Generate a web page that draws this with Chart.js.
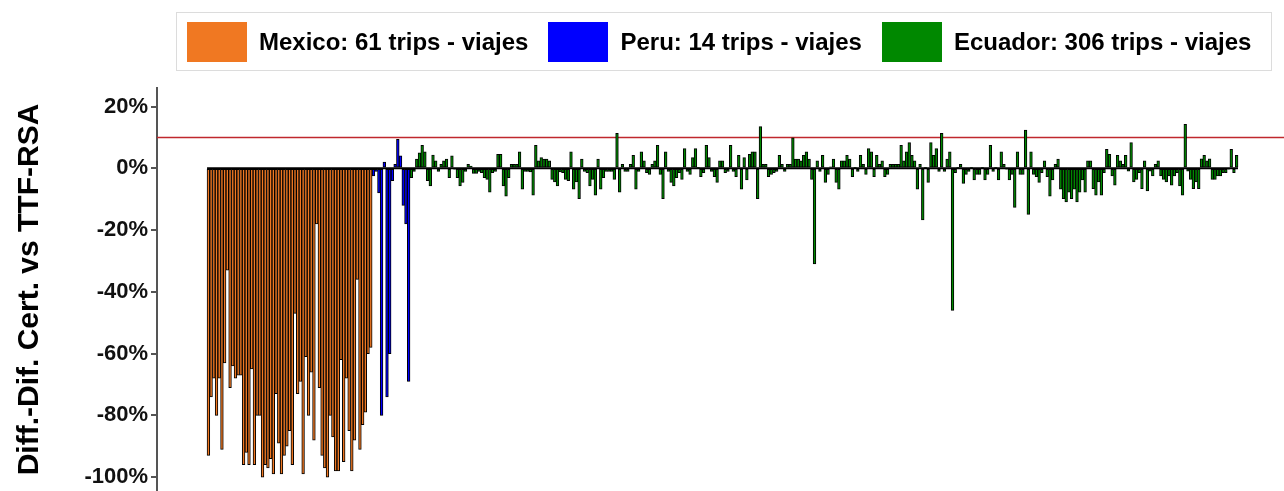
<!DOCTYPE html>
<html lang="en">
<head>
    <meta charset="UTF-8">
    <title>Diff.-Dif. Cert. vs TTF-RSA</title>
    <script src="https://cdn.jsdelivr.net/npm/chart.js"></script>
    <style>
        html, body { margin: 0; padding: 0; background: #fff; }
        #wrap { position: relative; width: 1284px; height: 491px; }
        #legend {
            position: absolute; left: 176px; top: 12px; width: 1094px; height: 57px;
            border: 1px solid #dcdcdc; display: flex; align-items: center;
            font: bold 24px "Liberation Sans", Arial, sans-serif; color: #000;
        }
        .item { display: flex; align-items: center; margin-left: 10px; margin-right: 10px; white-space: nowrap; flex-shrink: 0; }
        .swatch { width: 60px; height: 40px; margin-right: 12px; }
        canvas { position: absolute; left: 0; top: 0; }
    </style>
</head>
<body>
<div id="wrap">
    <canvas id="chart" width="1284" height="491"></canvas>
    <div id="legend"></div>
</div>

<script>
    // Diff. values (%) per trip, in trip order
    const mexico = [
        -93, -74, -68, -80, -68, -91, -63, -33, -71, -64, -68, -67, -67, -96, -92, -96, -65, -96, -80, -80,
        -100, -96, -97, -94, -99, -73, -89, -99,
        -93, -90, -85, -96, -47, -73, -69, -99, -61, -80, -66, -88, -18, -71, -93, -97, -100, -80, -87, -98,
        -98, -62, -95, -68, -85, -98, -88, -36, -91, -83, -79, -60, -58
    ];
    const peru = [-2.5, -1, -8, -80, 2, -74, -60, -4, 1.3, 9.4, 4, -12, -18, -69];
    const ecuador = [
        -3, -1, 3, 5, 7.4, 5.3, -4, -5.7, 4.3, 2.4, -1, 1.3, 2.4, 3, -3, 4, -0.3, -3, -5.7, -4.6,
        -1, 1.3, 0.7, -1.7, -1.7, -1, -1.4, -3, -3.6, -7.7, -1.4, -1, 4.5, 4.5, -5.7, -9, -3, 1.3, 1.3, 1.3,
        5.3, -6.8, -1, -1, -1.2, -8.7, 7.4, 2.4, 3.5, 3,
        3, 2.4, -3.6, -4.4, -5.7, -1.2, -1.4, -3.6, -4, 5.3, -6.8, -4.4, -9.8, 3, -1, -1.4, -5.7, -3.6, -8.7, 3,
        -6.8, -3, -1, -1, -1, -3.6, 11.3, -7.7, 1.3, -1, -1, 1.3, 4.2, -6.8, -1, 5.3, 2.4, -1.4, -2, 1.3,
        2.4, 7.4, -2, -9.8, 5.3, -1, -4.6, -5.7, -3, -1.4, -3.6, 6.4,
        -1, -2, 3.5, 6.4, 0.3, -2.7, -1.4, 7.4, 3.5, -1, -2.7, -4.6, 2.4, 2.4, -1.4, -1, 7.4, -1, -2.7,
        4.2, -6.8, 3.5, -3.8, 4.5, 5.3, 5.3, -9.8, 13.5, 1.3, 1.3, -2.7, -2, -1.4, -1, 4.2, 1.3, -1, 1.3, 1.3,
        9.9, 3, 3, 2.4, 4.2, 5.3, 3, -3.6, -31, 2.4,
        -1, 4.2, -4.6, -2, 0.5, 3, -4.6, -6.8, 2.4, 2.4, 4.2, 3, -2.7, 0.3, -1, 4.2, 1.3, -2, 6.4, 5.3,
        -2.7, 4.2, 1.3, 2.4, -2.7, -2, 1.3, 1.3, 1.3, 1.3, 7.4, 2.4, 5.3, 8.3, 4.2, 2.4, -6.8, 1.3, -16.7, 0.3,
        -4.6, 8.3, 4.2, 6.4, -1, 11.3, -1, 3, 5.3, -46,
        -1.4, 0.3, 1.3, -4.9, -2, -1, 0.3, -3.8, -2, -2, 0.3, -3.8, -2, 7.4, -1, 0.3, -3.8, 5.3, 1.3, -0.3,
        -3.8, -2, -12.7, 5.3, -2, -2, 12.4, -14.9, 5.3, -2, -2.7, -4.6, -1.4, 2.4, -2.7, -9, -3.8, 1.3, 3, -6.8,
        -9.8, -10.9, -7.7, -9.8, -6.8, -10.9, -7.7, -3.8, -7.7, 2.4,
        2.4, -6.6, -8.7, -4.4, -8.7, -1.4, 6.1, 4.5, -2.5, -5.5, 4.2, 2.4, 1.3, 4.2, -0.9, 8.3, -4.4, -3.6, -1.4, -6.6,
        2.4, -7.3, -0.9, -2.5, 1.3, 2.4, -2.5, -3.6, -4.4, -2.5, -5.5, -2.5, -1.4, -5.7, -8.7, 14.2, -0.9, -3.6, -6.6, -4.4,
        -6.6, 3.1, 4.2, 2.4, 3.1, -3.6, -3.6, -2.5, -2.5, -1.4, -1.4, -0.3, 6.1, -1.4, 4.2
    ];
    const countries = ['Mexico', 'Peru', 'Ecuador'];
    const colors = ['#f07822', '#0000ff', '#008800'];
    const yTicks = [20, 0, -20, -40, -60, -80, -100];
    const threshold = 10;

    const xMin = -19, xMax = 397.5;
    const font = '"Liberation Sans", Arial, sans-serif';

    // one bar dataset per country, trips numbered one after another
    const series = [mexico, peru, ecuador];
    let start = 0;
    const datasets = series.map((vals, k) => {
        const ds = {
            type: 'bar',
            label: countries[k] + ': ' + vals.length + ' trips - viajes',
            data: vals.map((v, i) => ({ x: start + i, y: v })),
            backgroundColor: colors[k],
            borderColor: '#000',
            borderWidth: 1,
            borderSkipped: false,
            grouped: false,
            barPercentage: 1,
            categoryPercentage: 1,
            order: 1
        };
        start += vals.length;
        return ds;
    });
    const nTrips = start;

    // red reference line at 10%
    datasets.push({
        type: 'line',
        label: 'threshold',
        data: [{ x: xMin, y: threshold }, { x: xMax, y: threshold }],
        borderColor: '#c0282d',
        borderWidth: 1.5,
        pointRadius: 0,
        order: 2
    });

    // black base line under the bars
    datasets.push({
        type: 'line',
        label: 'base',
        data: [{ x: -0.5, y: 0 }, { x: nTrips - 0.5, y: 0 }],
        borderColor: '#000',
        borderWidth: 2,
        pointRadius: 0,
        order: 0
    });

    // html legend
    const legendEl = document.getElementById('legend');
    series.forEach((vals, k) => {
        const item = document.createElement('div');
        item.className = 'item';
        const sw = document.createElement('span');
        sw.className = 'swatch';
        sw.style.background = colors[k];
        const txt = document.createElement('span');
        txt.textContent = datasets[k].label;
        item.appendChild(sw);
        item.appendChild(txt);
        legendEl.appendChild(item);
    });

    new Chart(document.getElementById('chart'), {
        type: 'bar',
        data: { datasets: datasets },
        options: {
            responsive: false,
            animation: false,
            layout: { padding: { top: 88, left: 0, right: 0, bottom: 0 } },
            plugins: { legend: { display: false }, tooltip: { enabled: false } },
            scales: {
                x: { type: 'linear', min: xMin, max: xMax, offset: false, display: false },
                y: {
                    min: -104.5,
                    max: 26,
                    afterBuildTicks: s => { s.ticks = yTicks.map(v => ({ value: v })); },
                    afterFit: s => { s.width = 157; s.paddingTop = 0; s.paddingBottom = 0; },
                    ticks: {
                        callback: v => v + '%',
                        color: '#111',
                        padding: 3,
                        font: { family: font, size: 22, weight: 'bold' }
                    },
                    grid: { drawOnChartArea: false, drawTicks: true, tickLength: 6, color: '#555', lineWidth: 2 },
                    border: { display: true, color: '#555', width: 2 },
                    title: {
                        display: true,
                        text: 'Diff.-Dif. Cert. vs TTF-RSA',
                        color: '#000',
                        padding: { top: 12, bottom: 0 },
                        font: { family: font, size: 30, weight: 'bold' }
                    }
                }
            }
        }
    });
</script>
</body>
</html>
